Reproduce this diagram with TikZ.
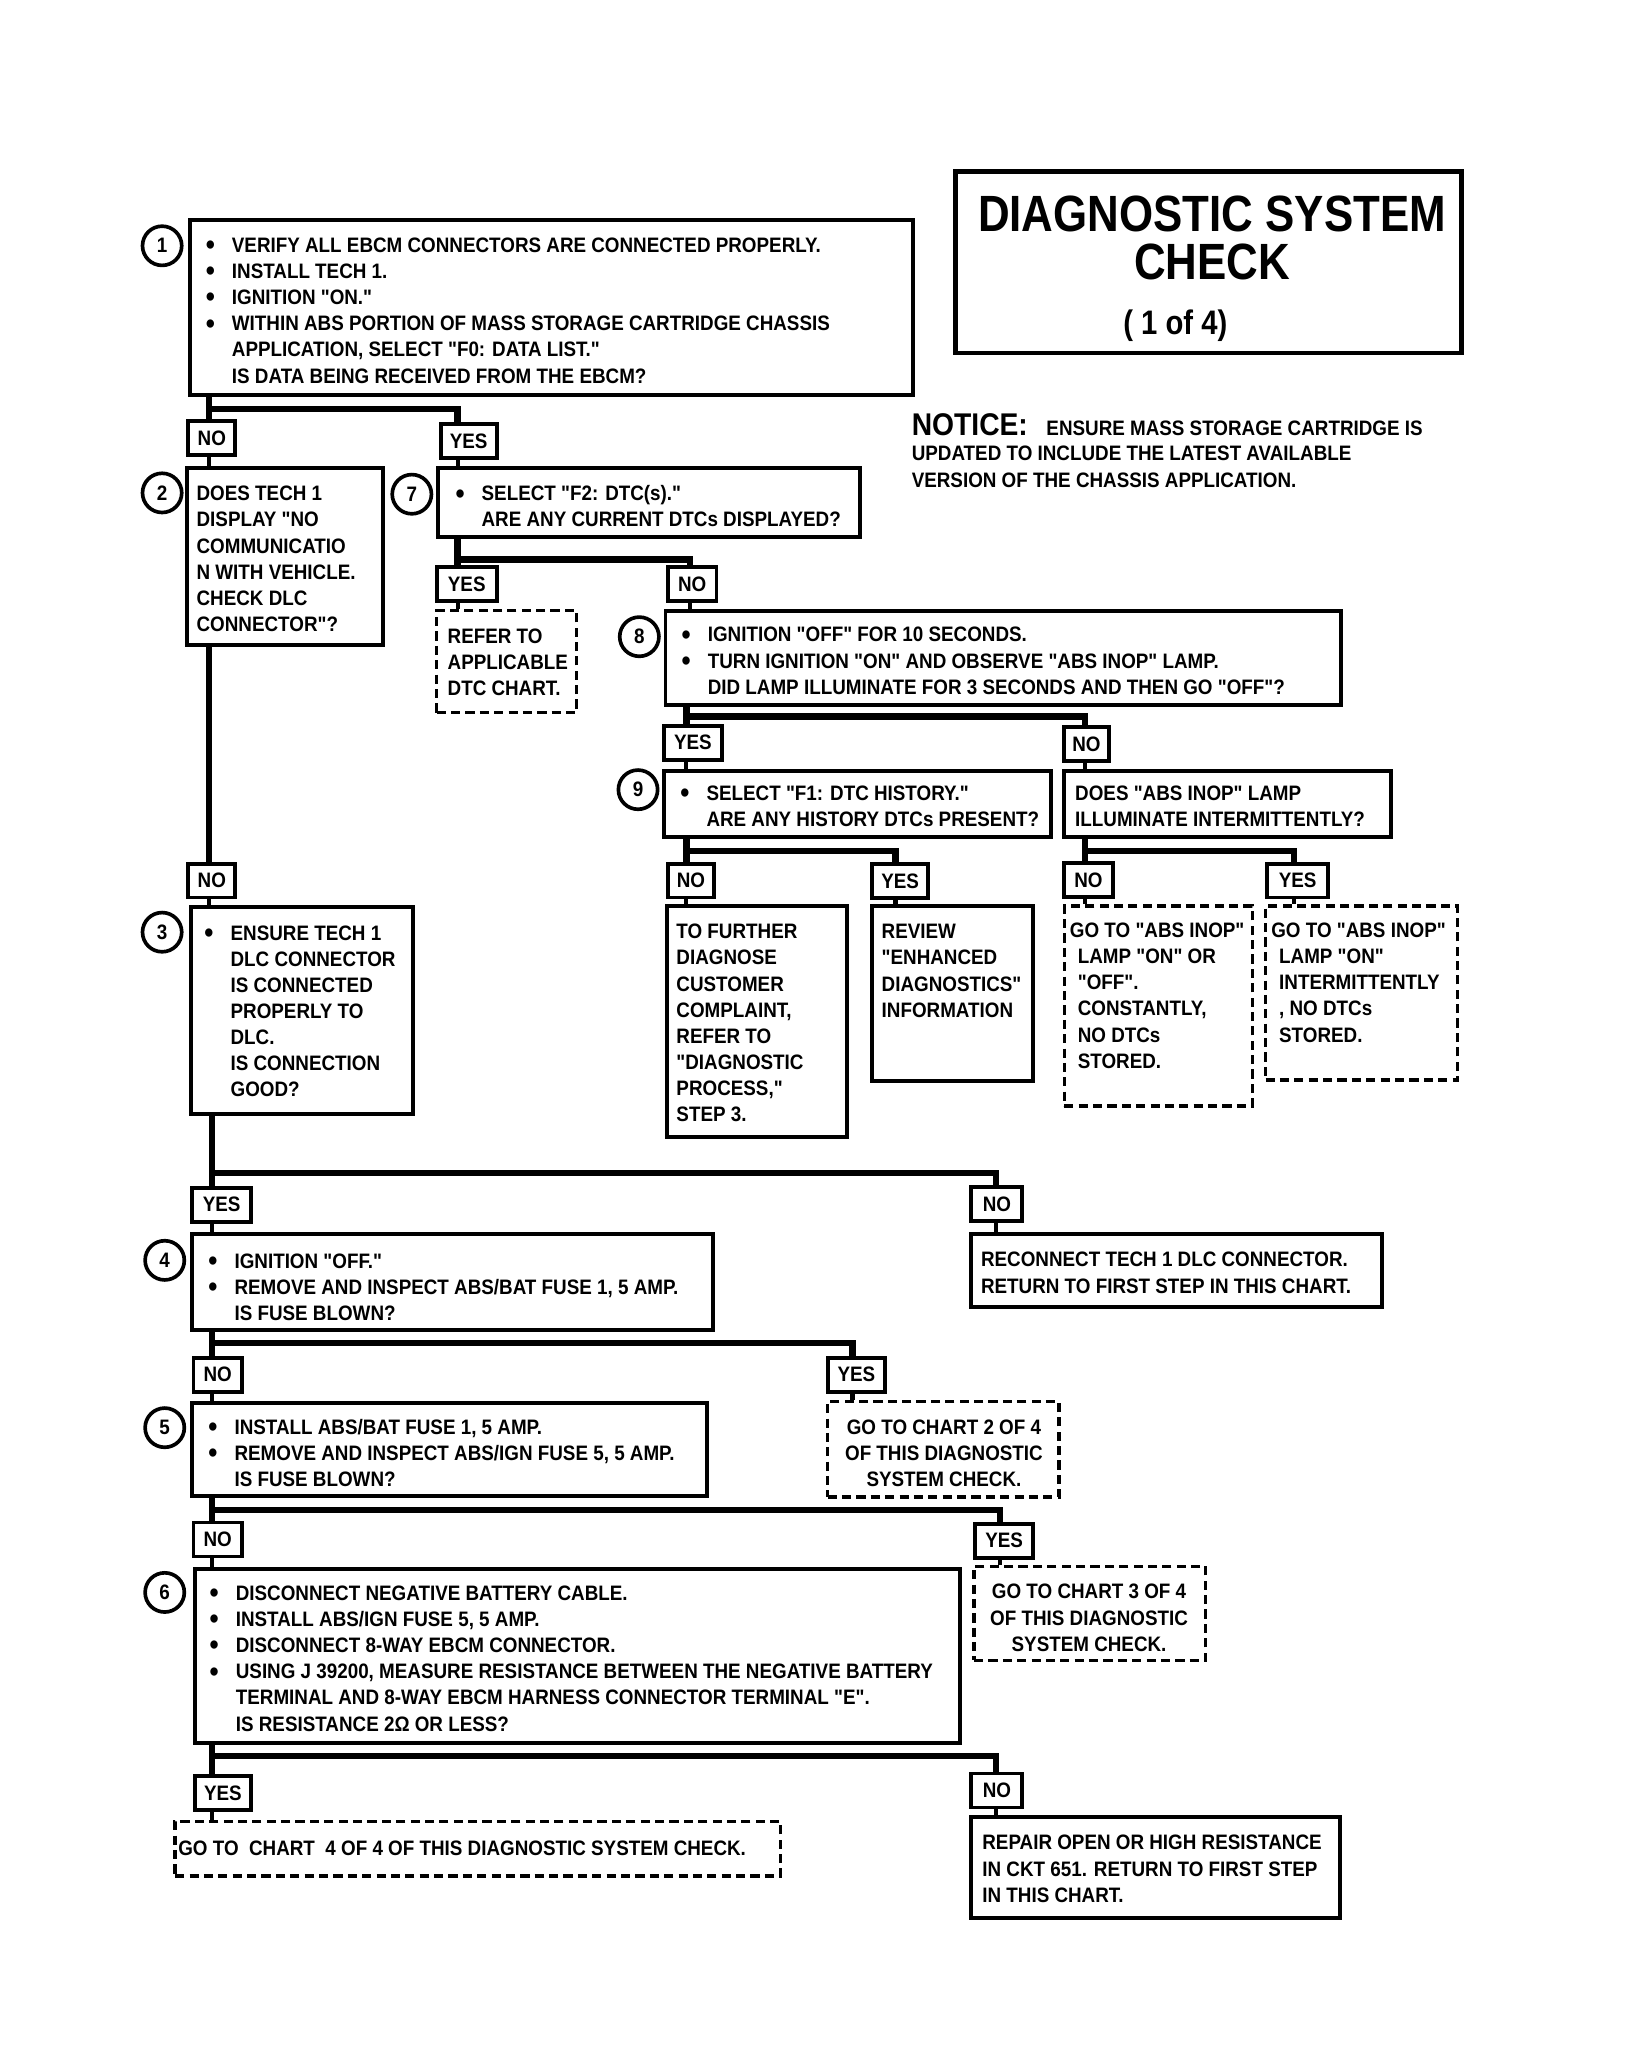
\documentclass[tikz,border=0pt]{standalone}
\usepackage{fontspec}
\usetikzlibrary{fit}
\newfontfamily\dfont[FakeStretch=0.9]{Liberation Sans}
\newfontfamily\tfont[FakeStretch=0.86]{Liberation Sans}
\newcommand\bodyf{\dfont\bfseries\fontsize{8pt}{10pt}\selectfont}
\newcommand\dbul{\makebox[10pt][l]{\raisebox{-0.9pt}{\fontsize{11pt}{10pt}\selectfont\textbullet}}}
\newcommand\dind{\hspace*{10pt}}
\tikzset{
  bx/.style={draw, line width=1.5pt, inner sep=0pt},
  dbx/.style={draw, line width=1.3pt, dash pattern=on 3.5pt off 2pt, inner sep=0pt},
  lbl/.style={draw, line width=1.5pt, inner sep=0pt, minimum height=13pt, font=\bodyf},
  txt/.style={inner sep=0pt, align=left, anchor=base west, font=\bodyf},
  ctxt/.style={inner sep=0pt, align=center, anchor=base, font=\bodyf},
  num/.style={circle, draw, line width=1.4pt, minimum size=15pt, inner sep=0pt, font=\bodyf},
  conn/.style={line width=2.4pt},
  stub/.style={line width=1.6pt},
}
\begin{document}
\begin{tikzpicture}[x=0.5pt,y=-0.5pt]
\useasboundingbox (0,0) rectangle (1261,1568);

% title and notice
\node[bx, line width=1.8pt, fit={(731,131) (1118,270)}] (title) {};
\node[inner sep=0pt, anchor=base, font=\tfont\bfseries\fontsize{19.5pt}{22pt}\selectfont] (tt1) at (927,177) {DIAGNOSTIC SYSTEM};
\node[inner sep=0pt, anchor=base, font=\tfont\bfseries\fontsize{19.5pt}{22pt}\selectfont] (tt2) at (927,214) {CHECK};
\node[inner sep=0pt, anchor=base, font=\tfont\bfseries\fontsize{13pt}{15pt}\selectfont] (tt3) at (899,256) {( 1 of 4)};
\node[inner sep=0pt, anchor=base west, font=\dfont\bfseries\fontsize{12pt}{14pt}\selectfont] (notice) at (697,333) {NOTICE:};
\node[txt] (ntc1) at (800,333) {ENSURE MASS STORAGE CARTRIDGE IS};
\node[txt, font=\dfont\bfseries\fontsize{8pt}{10.5pt}\selectfont] (ntc2) at (697,373) {UPDATED TO INCLUDE THE LATEST AVAILABLE\\VERSION OF THE CHASSIS APPLICATION.};

% boxes
\node[bx, fit={(145,168) (698,302)}] (b1) {};
\node[bx, fit={(143,358) (293,493)}] (b2) {};
\node[bx, fit={(335,358) (658,411)}] (b7) {};
\node[dbx, fit={(334,467) (441,545)}] (ref) {};
\node[bx, fit={(509,467) (1026,539)}] (b8) {};
\node[bx, fit={(508,590) (804,640)}] (b9) {};
\node[bx, fit={(814,590) (1064,640)}] (abs) {};
\node[bx, fit={(510,693) (648,870)}] (fur) {};
\node[bx, fit={(667,693) (790,827)}] (rev) {};
\node[dbx, fit={(814,693) (958,846)}] (dA) {};
\node[dbx, fit={(968,693) (1115,826)}] (dB) {};
\node[bx, fit={(146,694) (316,852)}] (b3) {};
\node[bx, fit={(147,944) (545,1017)}] (b4) {};
\node[bx, fit={(743,944) (1057,1000)}] (rec) {};
\node[bx, fit={(147,1073) (541,1144)}] (b5) {};
\node[dbx, fit={(633,1072) (810,1145)}] (c2) {};
\node[bx, fit={(149,1200) (734,1333)}] (b6) {};
\node[dbx, fit={(745,1198) (922,1270)}] (c3) {};
\node[dbx, fit={(134,1393) (597,1435)}] (c4) {};
\node[bx, fit={(743,1390) (1025,1467)}] (rep) {};

% step numbers
\node[num] (n1) at (124,188) {1};
\node[num] (n2) at (124,377) {2};
\node[num] (n7) at (315,378) {7};
\node[num] (n8) at (489,487) {8};
\node[num] (n9) at (488,604) {9};
\node[num] (n3) at (124,713) {3};
\node[num] (n4) at (126,964) {4};
\node[num] (n5) at (126,1092) {5};
\node[num] (n6) at (126,1218) {6};

% texts (anchored at the baseline of their last line)
\node[txt] (t1) at (157,293) {\dbul VERIFY ALL EBCM CONNECTORS ARE CONNECTED PROPERLY.\\\dbul INSTALL TECH 1.\\\dbul IGNITION "ON."\\\dbul WITHIN ABS PORTION OF MASS STORAGE CARTRIDGE CHASSIS\\\dind APPLICATION, SELECT "F0: DATA LIST."\\\dind IS DATA BEING RECEIVED FROM THE EBCM?};
\node[txt] (t2) at (150,483) {DOES TECH 1\\DISPLAY "NO\\COMMUNICATIO\\N WITH VEHICLE.\\CHECK DLC\\CONNECTOR"?};
\node[txt] (t7) at (348,403) {\dbul SELECT "F2: DTC(s)."\\\dind ARE ANY CURRENT DTCs DISPLAYED?};
\node[txt] (tref) at (342,532) {REFER TO\\APPLICABLE\\DTC CHART.};
\node[txt] (t8) at (521,531) {\dbul IGNITION "OFF" FOR 10 SECONDS.\\\dbul TURN IGNITION "ON" AND OBSERVE "ABS INOP" LAMP.\\\dind DID LAMP ILLUMINATE FOR 3 SECONDS AND THEN GO "OFF"?};
\node[txt] (t9) at (520,632) {\dbul SELECT "F1: DTC HISTORY."\\\dind ARE ANY HISTORY DTCs PRESENT?};
\node[txt] (tabs) at (822,632) {DOES "ABS INOP" LAMP\\ILLUMINATE INTERMITTENTLY?};
\node[txt] (tfur) at (517,858) {TO FURTHER\\DIAGNOSE\\CUSTOMER\\COMPLAINT,\\REFER TO\\"DIAGNOSTIC\\PROCESS,"\\STEP 3.};
\node[txt] (trev) at (674,778) {REVIEW\\"ENHANCED\\DIAGNOSTICS"\\INFORMATION};
\node[txt] (tA) at (818,817) {GO TO "ABS INOP"\\\hspace*{3pt}LAMP "ON" OR\\\hspace*{3pt}"OFF".\\\hspace*{3pt}CONSTANTLY,\\\hspace*{3pt}NO DTCs\\\hspace*{3pt}STORED.};
\node[txt] (tB) at (972,797) {GO TO "ABS INOP"\\\hspace*{3pt}LAMP "ON"\\\hspace*{3pt}INTERMITTENTLY\\\hspace*{3pt}, NO DTCs\\\hspace*{3pt}STORED.};
\node[txt] (t3) at (156,839) {\dbul ENSURE TECH 1\\\dind DLC CONNECTOR\\\dind IS CONNECTED\\\dind PROPERLY TO\\\dind DLC.\\\dind IS CONNECTION\\\dind GOOD?};
\node[txt] (t4) at (159,1010) {\dbul IGNITION "OFF."\\\dbul REMOVE AND INSPECT ABS/BAT FUSE 1, 5 AMP.\\\dind IS FUSE BLOWN?};
\node[txt] (trec) at (750,989) {RECONNECT TECH 1 DLC CONNECTOR.\\RETURN TO FIRST STEP IN THIS CHART.};
\node[txt] (t5) at (159,1137) {\dbul INSTALL ABS/BAT FUSE 1, 5 AMP.\\\dbul REMOVE AND INSPECT ABS/IGN FUSE 5, 5 AMP.\\\dind IS FUSE BLOWN?};
\node[ctxt] (tc2) at (722,1137) {GO TO CHART 2 OF 4\\OF THIS DIAGNOSTIC\\SYSTEM CHECK.};
\node[txt] (t6) at (160,1324) {\dbul DISCONNECT NEGATIVE BATTERY CABLE.\\\dbul INSTALL ABS/IGN FUSE 5, 5 AMP.\\\dbul DISCONNECT 8-WAY EBCM CONNECTOR.\\\dbul USING J 39200, MEASURE RESISTANCE BETWEEN THE NEGATIVE BATTERY\\\dind TERMINAL AND 8-WAY EBCM HARNESS CONNECTOR TERMINAL "E".\\\dind IS RESISTANCE 2Ω OR LESS?};
\node[ctxt] (tc3) at (833,1263) {GO TO CHART 3 OF 4\\OF THIS DIAGNOSTIC\\SYSTEM CHECK.};
\node[txt] (tc4) at (136,1419) {GO TO~~CHART~~4 OF 4 OF THIS DIAGNOSTIC SYSTEM CHECK.};
\node[txt] (trep) at (751,1455) {REPAIR OPEN OR HIGH RESISTANCE\\IN CKT 651. RETURN TO FIRST STEP\\IN THIS CHART.};

% answer labels
\node[lbl, minimum width=18pt] (no1) at (162,335) {NO};
\node[lbl, minimum width=21.5pt] (yes1) at (358.5,337.5) {YES};
\node[lbl, minimum width=23pt] (yes7) at (357,447) {YES};
\node[lbl, minimum width=18.5pt] (no7) at (529.5,447) {NO};
\node[lbl, minimum width=22pt] (yes8) at (530,568) {YES};
\node[lbl, minimum width=17pt] (no8) at (831,569) {NO};
\node[lbl, minimum width=17.5pt] (no9) at (528.5,673.5) {NO};
\node[lbl, minimum width=21.5pt] (yes9) at (688.5,674) {YES};
\node[lbl, minimum width=18.5pt] (noA) at (832.5,673) {NO};
\node[lbl, minimum width=23.5pt] (yesA) at (992.5,673.5) {YES};
\node[lbl, minimum width=18pt] (no2) at (162,673.5) {NO};
\node[lbl, minimum width=22.5pt] (yes3) at (169.5,921.5) {YES};
\node[lbl, minimum width=19.5pt] (no3) at (762.5,921) {NO};
\node[lbl, minimum width=18.5pt] (no4) at (166.5,1051.5) {NO};
\node[lbl, minimum width=22pt] (yes4) at (655,1051.5) {YES};
\node[lbl, minimum width=18.5pt] (no5) at (166.5,1177.5) {NO};
\node[lbl, minimum width=22pt] (yes5) at (768,1178.5) {YES};
\node[lbl, minimum width=21.5pt] (yes6) at (170.5,1371.5) {YES};
\node[lbl, minimum width=19.5pt] (no6) at (762.5,1369.5) {NO};

% connectors
\coordinate (j1l) at (160,313); \coordinate (j1r) at (350,313);
\draw[conn] (b1.south -| j1l) -- (j1l) -- (j1r) -- (yes1.north -| j1r);
\draw[conn] (j1l) -- (no1.north -| j1l);
\draw[stub] (no1.south -| j1l) -- (b2.north -| j1l);
\draw[stub] (yes1.south -| j1r) -- (b7.north -| j1r);

\coordinate (j7l) at (350,428); \coordinate (j7r) at (528,428);
\draw[conn] (b7.south -| j7l) -- (j7l) -- (j7r) -- (no7.north -| j7r);
\draw[conn] (j7l) -- (yes7.north -| j7l);
\draw[stub] (yes7.south -| j7l) -- (ref.north -| j7l);
\draw[stub] (no7.south -| j7r) -- (b8.north -| j7r);

\coordinate (j8l) at (525,548); \coordinate (j8r) at (830,548);
\draw[conn] (b8.south -| j8l) -- (j8l) -- (j8r) -- (no8.north -| j8r);
\draw[conn] (j8l) -- (yes8.north -| j8l);
\draw[stub] (yes8.south -| j8l) -- (b9.north -| j8l);
\draw[stub] (no8.south -| j8r) -- (abs.north -| j8r);

\coordinate (j9l) at (525,651); \coordinate (j9r) at (685,651);
\draw[conn] (b9.south -| j9l) -- (j9l) -- (j9r) -- (yes9.north -| j9r);
\draw[conn] (j9l) -- (no9.north -| j9l);
\draw[stub] (no9.south -| j9l) -- (fur.north -| j9l);
\draw[stub] (yes9.south -| j9r) -- (rev.north -| j9r);

\coordinate (jAl) at (830,651); \coordinate (jAr) at (990,651);
\draw[conn] (abs.south -| jAl) -- (jAl) -- (jAr) -- (yesA.north -| jAr);
\draw[conn] (jAl) -- (noA.north -| jAl);
\draw[stub] (noA.south -| jAl) -- (dA.north -| jAl);
\draw[stub] (yesA.south -| jAr) -- (dB.north -| jAr);

\draw[conn] (b2.south -| j1l) -- (no2.north -| j1l);
\draw[stub] (no2.south -| j1l) -- (b3.north -| j1l);

\coordinate (j3l) at (162,897); \coordinate (j3r) at (762,897);
\draw[conn] (b3.south -| j3l) -- (j3l) -- (j3r) -- (no3.north -| j3r);
\draw[conn] (j3l) -- (yes3.north -| j3l);
\draw[stub] (yes3.south -| j3l) -- (b4.north -| j3l);
\draw[stub] (no3.south -| j3r) -- (rec.north -| j3r);

\coordinate (j4l) at (162,1027); \coordinate (j4r) at (652,1027);
\draw[conn] (b4.south -| j4l) -- (j4l) -- (j4r) -- (yes4.north -| j4r);
\draw[conn] (j4l) -- (no4.north -| j4l);
\draw[stub] (no4.south -| j4l) -- (b5.north -| j4l);
\draw[stub] (yes4.south -| j4r) -- (c2.north -| j4r);

\coordinate (j5l) at (162,1155); \coordinate (j5r) at (765,1155);
\draw[conn] (b5.south -| j5l) -- (j5l) -- (j5r) -- (yes5.north -| j5r);
\draw[conn] (j5l) -- (no5.north -| j5l);
\draw[stub] (no5.south -| j5l) -- (b6.north -| j5l);
\draw[stub] (yes5.south -| j5r) -- (c3.north -| j5r);

\coordinate (j6l) at (162,1343); \coordinate (j6r) at (762,1343);
\draw[conn] (b6.south -| j6l) -- (j6l) -- (j6r) -- (no6.north -| j6r);
\draw[conn] (j6l) -- (yes6.north -| j6l);
\draw[stub] (yes6.south -| j6l) -- (c4.north -| j6l);
\draw[stub] (no6.south -| j6r) -- (rep.north -| j6r);
\end{tikzpicture}
\end{document}
